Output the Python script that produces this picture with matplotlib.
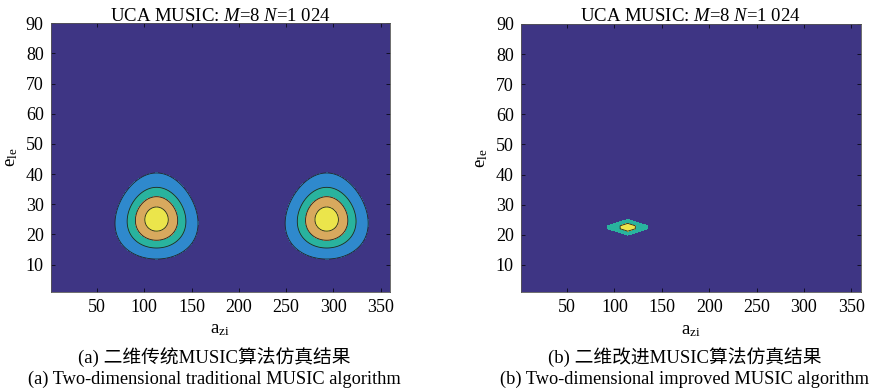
import numpy as np
import matplotlib
matplotlib.use('Agg')
import matplotlib.pyplot as plt

plt.rcParams['font.family'] = ['Liberation Serif', 'Noto Sans CJK SC']
plt.rcParams['mathtext.fontset'] = 'custom'
plt.rcParams['mathtext.rm'] = 'Liberation Serif'
plt.rcParams['mathtext.it'] = 'Liberation Serif:italic'

# search grid (deg)
az = np.arange(1, 361)
el = np.arange(1, 91)

# traditional MUSIC: two peaks (true + ambiguous), ring radii
trad_az = [113, 293]
trad_el = [25, 25]
trad_rings = [14.1, 10.0, 7.2, 4.0]
trad_colors = ['#3e3584', '#2f89cd', '#29b39e', '#d8a95e', '#ebe54b']

# improved MUSIC: one sharp peak
impr_az = [114]
impr_el = [22.5]
impr_rings = [1.0, 0.5]
impr_half = [26.0, 2.6]   # half width in az, el of outer ring
impr_colors = ['#3e3584', '#29b39e', '#ebe54b']

title = 'UCA MUSIC: $M$=8 $N$=1 024'
captions = [('(a) 二维传统MUSIC算法仿真结果', '(a) Two-dimensional traditional MUSIC algorithm'),
            ('(b) 二维改进MUSIC算法仿真结果', '(b) Two-dimensional improved MUSIC algorithm')]

# fine grid only for smooth drawing of the rings
A, E = np.meshgrid(np.linspace(1, 360, 1080), np.linspace(1, 90, 450))

# egg-shaped rings: a bit narrower and taller towards higher elevation
trad = np.full(A.shape, -1e3)
for a0, e0 in zip(trad_az, trad_el):
    y = E - e0
    yp = y - 0.00535 * y**2
    sa = 3.1 * (1 - 0.007 * y)
    x = (A - a0) / sa
    trad = np.maximum(trad, -np.sqrt(x**2 + yp**2))

Ac, Ec = np.meshgrid(az, el)
impr = np.full(Ac.shape, -1e3)
for a0, e0 in zip(impr_az, impr_el):
    d = np.abs(Ac - a0) / impr_half[0] + np.abs(Ec - e0) / impr_half[1]
    impr = np.maximum(impr, -d)

fig = plt.figure(figsize=(8.69, 3.92), dpi=100)
ax1 = fig.add_axes([0.0583, 0.2559, 0.3905, 0.6847])
ax2 = fig.add_axes([0.5992, 0.2550, 0.3913, 0.6840])

lv1 = [-1e4] + [-r for r in trad_rings] + [1]
ax1.contourf(A, E, trad, levels=lv1, colors=trad_colors)
ax1.contour(A, E, trad, levels=[-r for r in trad_rings], colors='#222222',
            linewidths=0.6, linestyles='solid')

lv2 = [-1e4] + [-r for r in impr_rings] + [1]
ax2.contourf(Ac, Ec, impr, levels=lv2, colors=impr_colors)
ax2.contour(Ac, Ec, impr, levels=[-impr_rings[1]], colors='#222222',
            linewidths=0.6, linestyles='solid')

for ax, cap in zip([ax1, ax2], captions):
    ax.set_xlim(1, 360)
    ax.set_ylim(1, 90)
    ax.set_xticks(np.arange(50, 351, 50))
    ax.set_yticks(np.arange(10, 91, 10))
    ax.tick_params(direction='in', top=True, right=True, length=3, width=0.5,
                   labelsize=13, pad=5)
    for s in ax.spines.values():
        s.set_linewidth(0.6)
        s.set_color('#555555')
    ax.set_title(title, fontsize=13.5, pad=2)
    ax.set_xlabel(r'a$_{\rm zi}$', fontsize=13.5, labelpad=4)
    ax.set_ylabel(r'e$_{\rm le}$', fontsize=13.5, labelpad=4)
    pos = ax.get_position()
    cx = pos.x0 + pos.width / 2 - 6 / 869
    fig.text(cx, 1 - 358 / 392, cap[0], ha='center', va='center', fontsize=13.5)
    fig.text(cx, 1 - 379 / 392, cap[1], ha='center', va='center', fontsize=13.2)

fig.savefig('out.png', dpi=100)
